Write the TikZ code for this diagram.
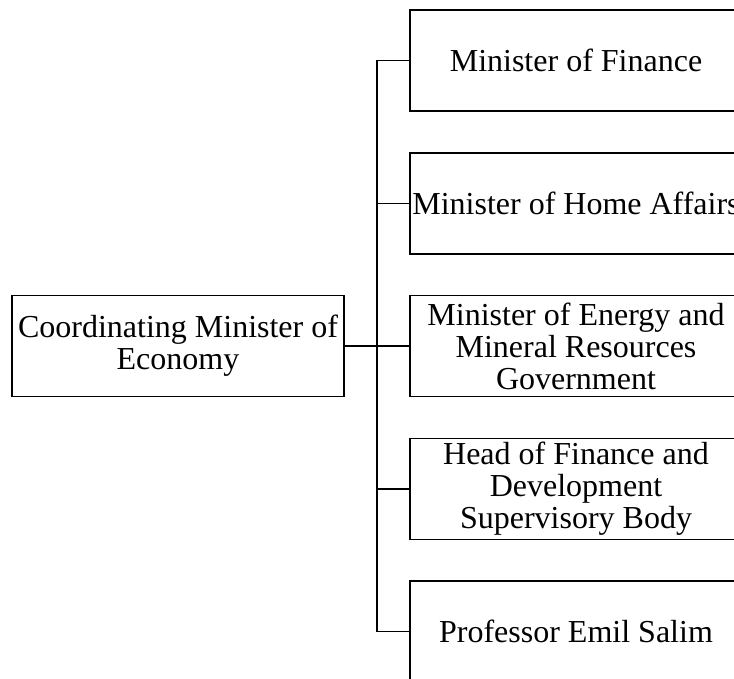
\documentclass[tikz,border=0pt]{standalone}
\usepackage{fontspec}
\setmainfont{Liberation Serif}
\begin{document}
\begin{tikzpicture}[x=1pt,y=-1pt,
  box/.style={draw,line width=1.8pt,minimum width=332pt,minimum height=101pt,
    align=center,inner sep=0pt,
    font=\fontsize{32}{32}\selectfont},
  link/.style={line width=1.8pt}]
\useasboundingbox (0,0) rectangle (734,679);
\clip (0,0) rectangle (734,679);
\node[box] (L) at (178,346) {Coordinating Minister of\\Economy};
\node[box] (B1) at (576,60.5) {Minister of Finance};
\node[box] (B2) at (576,203.5) {Minister of Home Affairs};
\node[box] (B3) at (576,346) {Minister of Energy and\\Mineral Resources\\Government};
\node[box] (B4) at (576,489) {Head of Finance and\\Development\\Supervisory Body};
\node[box] (B5) at (576,631.5) {Professor Emil Salim};
\coordinate (bus) at (377,346);
\draw[link] (B1.west) -| (bus) |- (B5.west);
\draw[link] (B2.west) -- (B2.west -| bus);
\draw[link] (B3.west) -- (bus);
\draw[link] (B4.west) -- (B4.west -| bus);
\draw[line width=2.4pt] (L.east) -- (bus);
\end{tikzpicture}
\end{document}
